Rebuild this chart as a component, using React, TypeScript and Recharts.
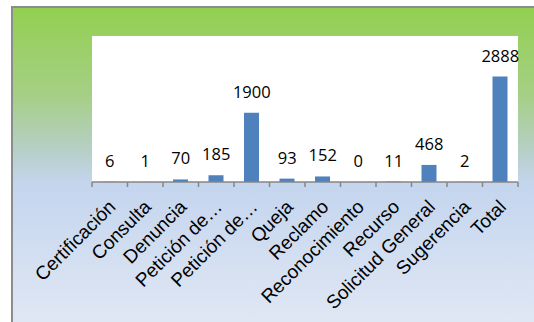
import React from 'react';
import { ComposedChart, Bar, Line, XAxis, YAxis, CartesianGrid, LabelList } from 'recharts';

const categories = [
  'Certificación',
  'Consulta',
  'Denuncia',
  'Petición de…',
  'Petición de…',
  'Queja',
  'Reclamo',
  'Reconocimiento',
  'Recurso',
  'Solicitud General',
  'Sugerencia',
  'Total',
];
const counts = [6, 1, 70, 185, 1900, 93, 152, 0, 11, 468, 2, 2888];
const yDomain = [0, 4000];

const data = categories.map((c, i) => ({ key: `c${i}`, name: c, value: counts[i] }));

const W = 534;
const H = 322;
const MARGIN = { top: 36, right: 16, left: 92, bottom: 0 };
const PLOT_W = W - MARGIN.left - MARGIN.right;
const HALF_BAND = PLOT_W / categories.length / 2;

const CategoryTick = (props: any) => {
  const { x, y, payload, index } = props;
  const label = categories[index] ?? payload.value;
  const isLast = index === categories.length - 1;
  const ax = x + 7;
  const ay = y + 26;
  return (
    <g>
      <line x1={x - HALF_BAND} x2={x - HALF_BAND} y1={y} y2={y + 5} stroke="#868686" strokeWidth={1.5} />
      {isLast && (
        <line x1={x + HALF_BAND} x2={x + HALF_BAND} y1={y} y2={y + 5} stroke="#868686" strokeWidth={1.5} />
      )}
      <text
        x={ax}
        y={ay}
        textAnchor="end"
        transform={`rotate(-45, ${ax}, ${ay})`}
        fontFamily="'Liberation Sans', Arial, sans-serif"
        fontSize={19}
        fill="#000"
      >
        {label}
      </text>
    </g>
  );
};

export default function App() {
  return (
    <div style={{ position: 'absolute', left: 0, top: 0, width: W, height: H, background: '#fff', overflow: 'hidden' }}>
      <div
        style={{
          position: 'absolute',
          left: 11,
          top: 6,
          right: 0,
          bottom: 0,
          borderLeft: '2px solid #8c8c8c',
          borderTop: '2px solid #8c8c8c',
          background:
            'linear-gradient(to bottom, #92D050 0%, #A6CF86 28%, #B6CFC6 45%, #C4D5EE 56%, #D2DEF1 78%, #E0E7F4 100%)',
        }}
      />
      <div style={{ position: 'absolute', left: 0, top: 0 }}>
        <ComposedChart width={W} height={H} data={data} margin={MARGIN} barCategoryGap={0}>
          <CartesianGrid fill="#ffffff" stroke="none" horizontal={false} vertical={false} />
          <YAxis hide domain={yDomain} width={0} />
          <XAxis
            dataKey="key"
            height={H - 182 - MARGIN.bottom}
            interval={0}
            tickLine={false}
            tickSize={0}
            tickMargin={0}
            axisLine={{ stroke: '#868686', strokeWidth: 1.5 }}
            tick={<CategoryTick />}
          />
          <Bar dataKey="value" fill="#4F81BD" barSize={15} isAnimationActive={false} />
          <Line
            dataKey="value"
            stroke="none"
            dot={false}
            activeDot={false}
            isAnimationActive={false}
          >
            <LabelList
              dataKey="value"
              position="top"
              offset={15}
              fill="#000"
              fontSize={16.5}
              fontFamily="'Open Sans', sans-serif"
            />
          </Line>
        </ComposedChart>
      </div>
    </div>
  );
}
